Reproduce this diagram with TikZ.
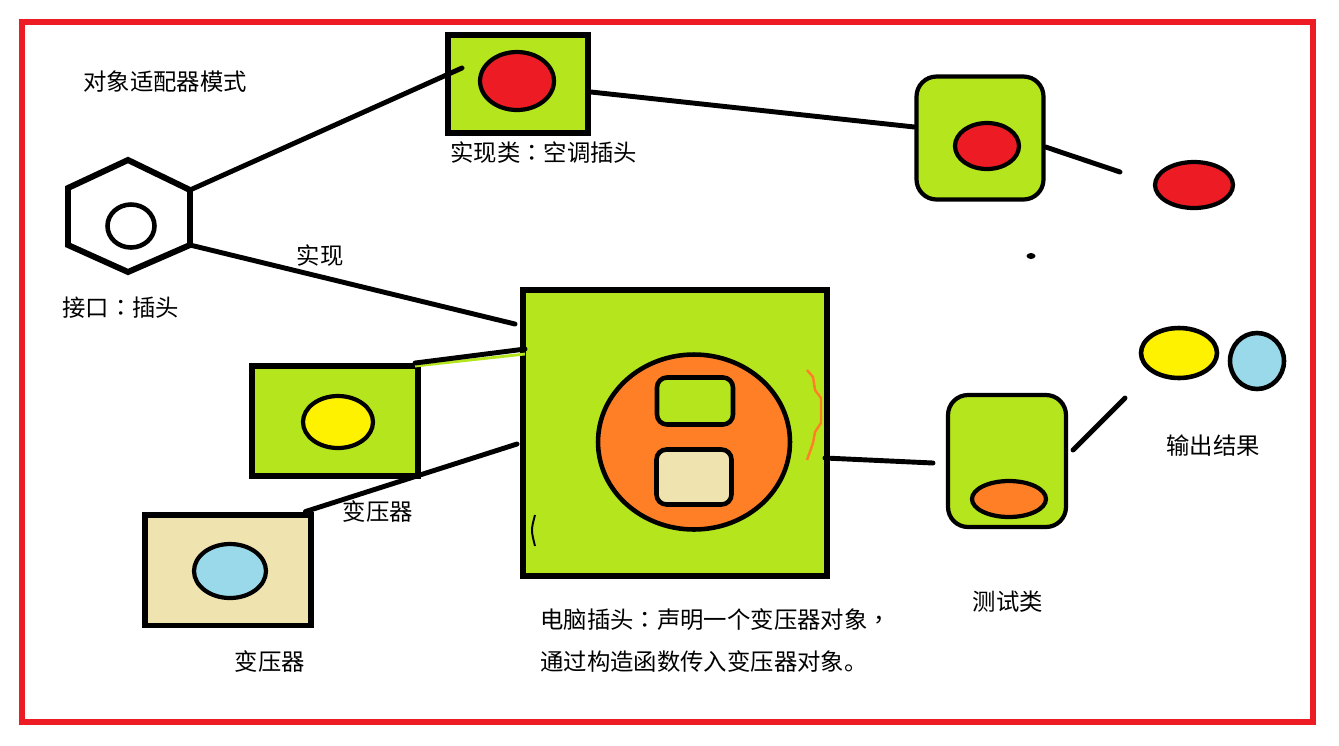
\documentclass[tikz,border=0pt]{standalone}
\usepackage{fontspec}
\newfontfamily\cjk{Noto Sans CJK SC}
\newfontfamily\cjkp{Noto Sans CJK TC}
\usetikzlibrary{shapes.geometric,calc}

\definecolor{paintgreen}{RGB}{181,230,29}
\definecolor{paintred}{RGB}{237,28,36}
\definecolor{paintorange}{RGB}{255,127,39}
\definecolor{paintbeige}{RGB}{239,228,176}
\definecolor{paintyellow}{RGB}{255,242,0}
\definecolor{paintblue}{RGB}{153,217,234}

\tikzset{
  box/.style={draw,line width=3.4pt,inner sep=0pt,fill=paintgreen},
  rbox/.style={box,rounded corners=0.4cm,line width=2.4pt},
  blob/.style={ellipse,draw,line width=2.4pt,inner sep=0pt},
  wire/.style={line width=2.8pt,line cap=round},
  txt/.style={font=\cjk\fontsize{13.3}{16}\selectfont,inner sep=0pt}
}
\newcommand{\pcolon}{{\cjkp ：}}
\newcommand{\pcomma}{{\cjkp ，}}

\begin{document}
\begin{tikzpicture}[x=0.02cm,y=-0.02cm]
\useasboundingbox (0,0) rectangle (1339,745);
\draw[paintred,line width=3pt] (22,22) rectangle (1313,722);

% interface: plug
\node[txt,anchor=west] (title) at (83,82) {对象适配器模式};
\draw[line width=3.4pt] (128,160) coordinate (plugT) -- (190,190) coordinate (plugUR)
  -- (190,245) coordinate (plugLR) -- (128,272) -- (68,245) -- (68,188) -- cycle;
\node[blob,line width=2.6pt,minimum width=0.94cm,minimum height=0.86cm] (plughole) at (131,226) {};
\node[txt,anchor=west] (pluglbl) at (62,308) {接口\pcolon 插头};

% air conditioner plug
\node[box,minimum width=2.8cm,minimum height=1.96cm] (acbox) at (518,84) {};
\node[blob,fill=paintred,minimum width=1.48cm,minimum height=1.16cm] (acpin) at (517,81) {};
\node[txt,anchor=west] (aclbl) at (450,153) {实现类\pcolon 空调插头};
\coordinate (acin) at (462,68);
\draw[wire] (plugUR) -- (acin);

\node[rbox,minimum width=2.54cm,minimum height=2.46cm] (acuse) at (980,138) {};
\node[blob,fill=paintred,minimum width=1.28cm,minimum height=0.92cm] (acusepin) at (987,146) {};
\draw[wire] ([yshift=-0.16cm]acbox.east) -- ([yshift=0.22cm]acuse.west);
\coordinate (acend) at (1120,172);
\draw[wire] ([yshift=-0.18cm]acuse.east) -- (acend);
\node[blob,fill=paintred,minimum width=1.56cm,minimum height=0.92cm] (acout) at (1194,185) {};
\node[ellipse,fill,minimum width=0.18cm,minimum height=0.12cm,inner sep=0pt] (speck) at (1031,256) {};

% computer plug
\node[box,minimum width=6.08cm,minimum height=5.72cm] (pcbox) at (675,433) {};
\node[blob,fill=paintorange,line width=2.6pt,minimum width=3.84cm,minimum height=3.5cm] (pcface) at (694,442) {};
\node[box,line width=2.6pt,rounded corners=0.2cm,minimum width=1.52cm,minimum height=0.94cm] (pcslotA) at (695,401) {};
\node[box,line width=2.6pt,rounded corners=0.2cm,fill=paintbeige,minimum width=1.5cm,minimum height=1.1cm] (pcslotB) at (694,477) {};
\draw[paintorange,line width=1.4pt] (807,370) -- (813,377) -- (815,390) -- (821,398)
  -- (821,423) -- (815,432) -- (813,443) -- (807,460);
\draw[line width=1.1pt] (535,515) .. controls (531,530) .. (535,546);
\draw[wire] (plugLR) -- node[txt,above=0.16cm,pos=0.4] (impl) {实现} ([xshift=-0.1cm,yshift=-0.74cm]pcbox.north west);
\node[txt,anchor=west] (pclblA) at (540,620) {电脑插头\pcolon 声明一个变压器对象\pcomma};
\node[txt,anchor=west] (pclblB) at (540,662) {通过构造函数传入变压器对象。};

% transformers
\node[box,minimum width=3.32cm,minimum height=2.2cm] (trA) at (335,421) {};
\node[blob,fill=paintyellow,minimum width=1.4cm,minimum height=1.04cm] (trApin) at (338,422) {};
\draw[paintgreen,line width=1.6pt] ([xshift=-0.12cm,yshift=-0.06cm]trA.north east) -- ([xshift=0.1cm,yshift=-1.34cm]pcbox.north west);
\draw[wire] ([xshift=-0.12cm]trA.north east) -- ([xshift=0.1cm,yshift=-1.24cm]pcbox.north west);
\node[box,fill=paintbeige,minimum width=3.34cm,minimum height=2.22cm] (trB) at (228,570) {};
\node[blob,fill=paintblue,minimum width=1.44cm,minimum height=1.08cm] (trBpin) at (230,571) {};
\draw[wire] ([xshift=-0.18cm]trB.north east) -- ([xshift=-0.06cm,yshift=-0.22cm]pcbox.west);
\node[txt] (trAlbl) at (378,512) {变压器};
\node[txt] (trBlbl) at (270,662) {变压器};

% test class and output
\node[rbox,minimum width=2.36cm,minimum height=2.64cm] (test) at (1007,461) {};
\node[blob,fill=paintorange,minimum width=1.48cm,minimum height=0.72cm] (testpin) at (1009,499) {};
\coordinate (testin) at (933,463);
\draw[wire] ([xshift=-0.1cm,yshift=-0.5cm]pcbox.east) -- (testin);
\node[txt] (testlbl) at (1008,602) {测试类};
\coordinate (outA) at (1073,450);
\coordinate (outB) at (1125,398);
\draw[wire] (outA) -- (outB);
\node[blob,fill=paintyellow,line width=2.6pt,minimum width=1.52cm,minimum height=1cm] (outyel) at (1179,353) {};
\node[blob,fill=paintblue,line width=2.6pt,minimum width=1.08cm,minimum height=1.12cm] (outblue) at (1257,361) {};
\node[txt] (outlbl) at (1213,446) {输出结果};
\end{tikzpicture}
\end{document}
